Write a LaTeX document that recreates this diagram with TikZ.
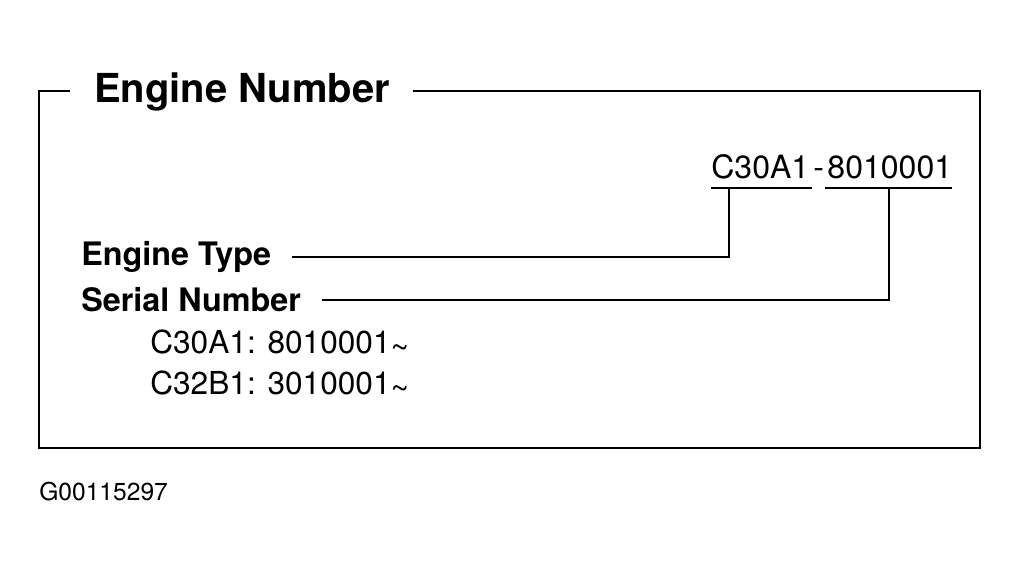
\documentclass[tikz,border=0pt]{standalone}
\usepackage{fontspec}
\setmainfont{TeX Gyre Heros}
\usetikzlibrary{positioning}

\begin{document}
\begin{tikzpicture}[x=0.025cm, y=-0.025cm,
    txt/.style={inner sep=0pt, anchor=west},
    heading/.style={txt, font=\bfseries\fontsize{28.4}{31}\selectfont},
    labeltxt/.style={txt, font=\bfseries\fontsize{23}{26}\selectfont},
    codetxt/.style={txt, font=\fontsize{22.8}{25}\selectfont},
    rangetxt/.style={txt, font=\fontsize{22.5}{25}\selectfont},
    frame/.style={line width=1.4pt},
    leader/.style={line width=1pt}]
  \useasboundingbox (0,0) rectangle (1020,574);
  % heading and frame
  \node (title) [heading] at (94,92) {Engine Number};
  \draw [frame] (70,91) -- (39,91) -- (39,448) -- (980,448) -- (980,91) -- (413,91);
  % code with underlines
  \node (typecode) [codetxt, anchor=base west] at (711,178) {C30A1};
  \node (dash) [codetxt, anchor=base west] at ([xshift=2.5pt]typecode.base east) {-};
  \node (serialcode) [codetxt, anchor=base west] at ([xshift=2pt]dash.base east) {8010001};
  \coordinate (typeline) at ([xshift=12.8pt, yshift=-7pt]typecode.base west);
  \coordinate (serialline) at ([xshift=44pt, yshift=-7pt]serialcode.base west);
  \draw [leader] ([yshift=-7pt]typecode.base west) -- ([yshift=-7pt, xshift=2pt]typecode.base east);
  \draw [leader] ([yshift=-7pt, xshift=-1.5pt]serialcode.base west) -- ([yshift=-7pt]serialcode.base east);
  % labels
  \node (etype) [labeltxt] at (81,257) {Engine Type};
  \node (serial) [labeltxt] at (81,300) {Serial Number};
  \node (range1) [rangetxt] at (150,344) {C30A1: 8010001\raisebox{-0.15em}{\textasciitilde}};
  \node (range2) [rangetxt] at (150,385) {C32B1: 3010001\raisebox{-0.15em}{\textasciitilde}};
  \node (figid) [txt, font=\fontsize{17.5}{20}\selectfont] at (39,492) {G00115297};
  % leaders
  \draw [leader] ([xshift=15pt]etype.east) -| (typeline);
  \draw [leader] ([xshift=15pt]serial.east) -| (serialline);
\end{tikzpicture}
\end{document}
